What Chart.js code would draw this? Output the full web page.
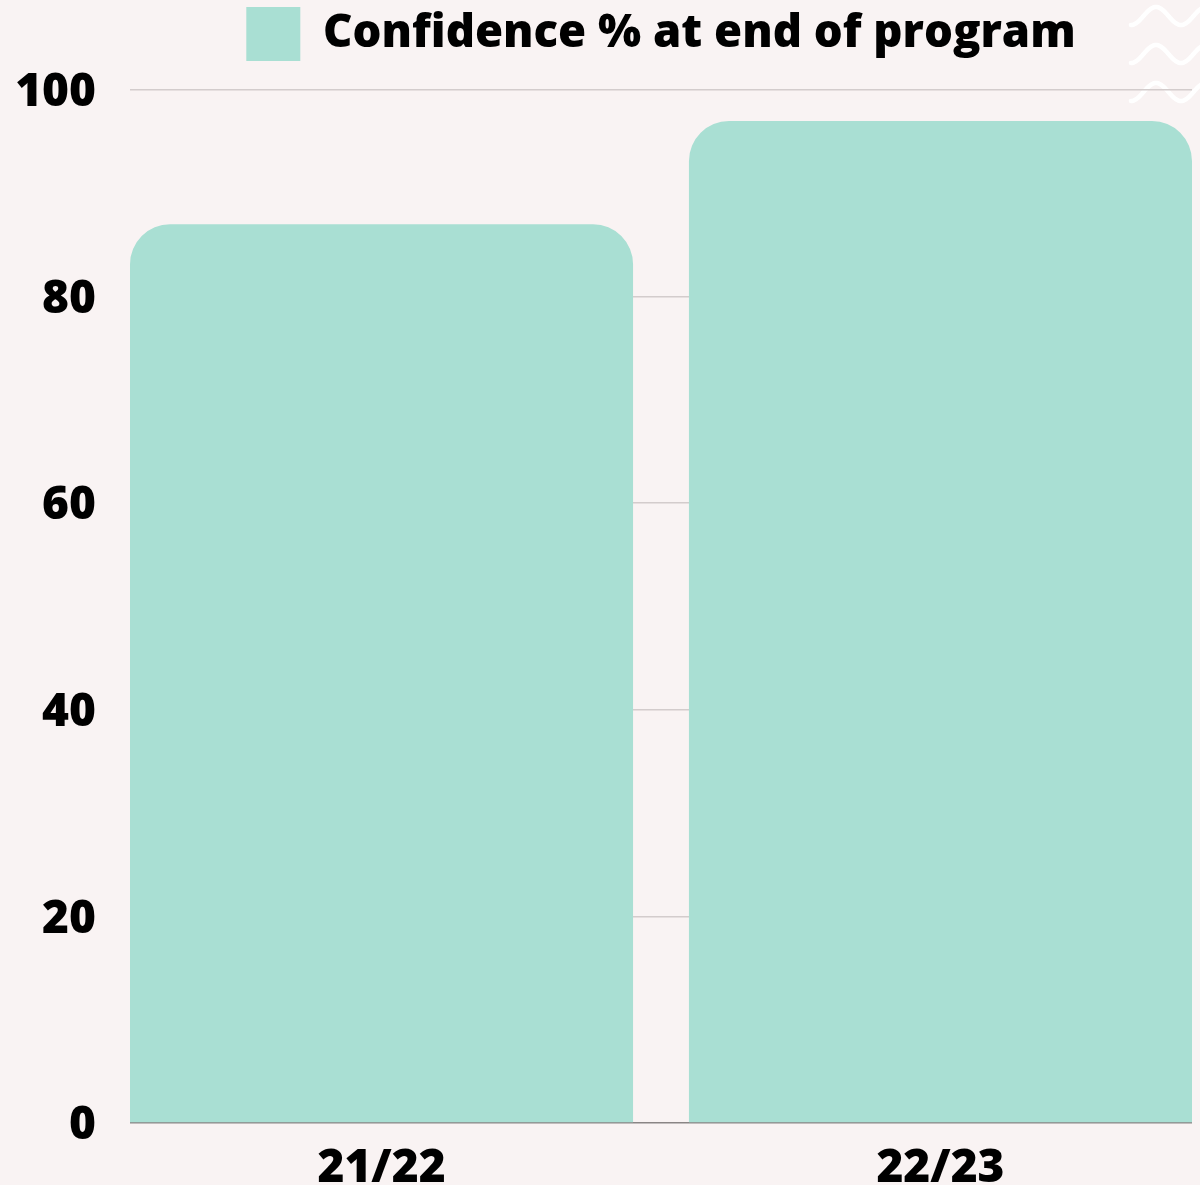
<!DOCTYPE html>
<html>
<head>
<meta charset="utf-8">
<script src="https://cdn.jsdelivr.net/npm/chart.js@4/dist/chart.umd.min.js"></script>
<style>
	html, body { margin: 0; padding: 0; background: #f9f3f3; }
	#wrap { width: 1200px; height: 1185px; position: relative; }
</style>
</head>
<body>
<div id="wrap"><canvas id="chart" width="1200" height="1185"></canvas></div>
<script>
// data
const categories = ["21/22", "22/23"];
const confidence = [87, 97];
const seriesLabel = "Confidence % at end of program";
const yTicks = [0, 20, 40, 60, 80, 100];

document.addEventListener("DOMContentLoaded", function () {
	const font = "'Open Sans', 'Noto Sans', sans-serif";

	// white squiggles in the top right corner
	const squiggles = {
		id: "squiggles",
		beforeDraw(chart) {
			const ctx = chart.ctx;
			ctx.save();
			ctx.strokeStyle = "#ffffff";
			ctx.lineWidth = 4.5;
			ctx.lineCap = "round";
			[16, 54, 92].forEach((base) => {
				ctx.beginPath();
				for (let x = 1131; x <= 1202; x += 1) {
					const y = base + 9 * Math.cos(((x - 1131) / 50) * 2 * Math.PI);
					if (x === 1131) ctx.moveTo(x, y);
					else ctx.lineTo(x, y);
				}
				ctx.stroke();
			});
			ctx.restore();
		},
	};

	new Chart(document.getElementById("chart"), {
		type: "bar",
		data: {
			datasets: [
				{
					label: seriesLabel,
					data: confidence.map((v, i) => ({ x: i, y: v })),
					backgroundColor: "#a9dfd3",
					borderWidth: 0,
					borderRadius: { topLeft: 40, topRight: 40 },
					borderSkipped: "bottom",
					categoryPercentage: 1,
					barPercentage: 0.9,
				},
			],
		},
		options: {
			responsive: false,
			animation: false,
			layout: { padding: { top: 0, right: 8, left: 0, bottom: 0 } },
			plugins: {
				tooltip: { enabled: false },
				legend: {
					fullSize: false,
					labels: {
						boxWidth: 54,
						boxHeight: 54,
						padding: 7,
						color: "#000",
						font: { family: font, size: 45.5, weight: "800" },
					},
				},
				// empty spacer under the legend
				title: {
					display: true,
					text: "",
					weight: 500,
					font: { size: 1, lineHeight: 1 },
					padding: { top: 0, bottom: 18 },
				},
			},
			scales: {
				x: {
					type: "linear",
					offset: false,
					min: -0.45,
					max: 1.45,
					grid: { display: false },
					border: { display: false },
					afterBuildTicks(scale) {
						scale.ticks = categories.map((c, i) => ({ value: i }));
					},
					afterFit(scale) {
						scale.height = 62;
					},
					ticks: {
						color: "#000",
						padding: 10,
						autoSkip: false,
						maxRotation: 0,
						font: { family: font, size: 46, weight: "800" },
						callback: (v) => categories[v],
					},
				},
				y: {
					min: 0,
					max: 100,
					afterBuildTicks(scale) {
						scale.ticks = yTicks.map((v) => ({ value: v }));
					},
					afterFit(scale) {
						scale.width = 130;
					},
					grid: {
						drawTicks: false,
						color: (c) => (c.tick.value === 0 ? "#8a8585" : "#d3cccc"),
						lineWidth: 1.5,
					},
					border: { display: false },
					ticks: {
						color: "#000",
						padding: 34,
						labelOffset: 3,
						font: { family: font, size: 46, weight: "800" },
					},
				},
			},
		},
		plugins: [squiggles],
	});
});
</script>
</body>
</html>
